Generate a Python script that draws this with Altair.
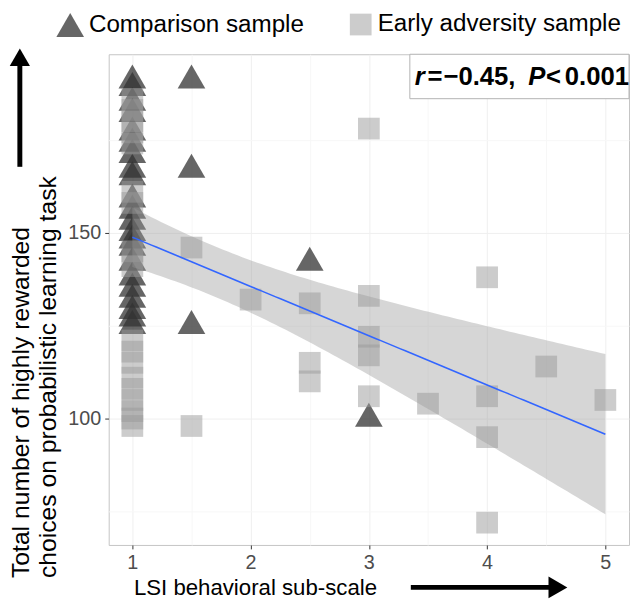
import altair as alt
import numpy as np
import pandas as pd

groups = ["Comparison sample", "Early adversity sample"]

# Comparison sample (triangles)
comp_x = [1, 1, 1, 1, 1, 1, 1, 1, 1, 1, 1, 1, 1, 1, 1, 1, 1, 1, 1, 1, 1, 1,
          1.5, 1.5, 1.5, 2.5, 3]
comp_y = [192, 190, 186, 183, 178, 175, 172, 168, 166, 160, 157, 154, 151, 149,
          147, 143, 139, 136, 133, 130, 128, 126,
          192, 168, 126, 143, 101]

# Early adversity sample (squares)
early_x = [1, 1, 1, 1, 1, 1, 1, 1, 1, 1, 1, 1, 1, 1, 1, 1, 1, 1,
           1.5, 1.5, 2, 2.5, 2.5, 2.5, 3, 3, 3, 3, 3, 3.5, 4, 4, 4, 4, 4.5, 5]
early_y = [186, 183, 180, 177, 174, 161, 158, 145, 141, 121, 118, 115, 111, 108,
           105, 102, 100, 98,
           146, 98, 132, 131, 115, 110, 178, 133, 122, 117, 106, 104,
           138, 106, 95, 72, 114, 105]

x_ticks = [1, 1.5, 2, 2.5, 3, 3.5, 4, 4.5, 5]
y_ticks = [75, 100, 125, 150, 175]

FONT = "Liberation Sans"

pts = pd.DataFrame({
    "x": comp_x + early_x,
    "y": comp_y + early_y,
    "sample": [groups[0]] * len(comp_x) + [groups[1]] * len(early_x),
})

# linear fit with 95% confidence band
xa = np.array(pts["x"], dtype=float)
ya = np.array(pts["y"], dtype=float)
n = len(xa)
slope, intercept = np.polyfit(xa, ya, 1)
resid = ya - (intercept + slope * xa)
s = np.sqrt((resid ** 2).sum() / (n - 2))
xbar = xa.mean()
sxx = ((xa - xbar) ** 2).sum()
grid = np.linspace(xa.min(), xa.max(), 100)
fit = intercept + slope * grid
se = s * np.sqrt(1.0 / n + (grid - xbar) ** 2 / sxx)
band = pd.DataFrame({"x": grid, "fit": fit, "lo": fit - 2.0 * se, "hi": fit + 2.0 * se})

xr = xa.max() - xa.min()
yr = ya.max() - ya.min()
xdom = [xa.min() - 0.05 * xr, xa.max() + 0.05 * xr]
ydom = [ya.min() - 0.05 * yr, ya.max() + 0.05 * yr]

xscale = alt.Scale(domain=xdom, nice=False, zero=False)
yscale = alt.Scale(domain=ydom, nice=False, zero=False)

x_axis = alt.Axis(
    values=x_ticks,
    labelExpr="datum.value % 1 === 0 ? format(datum.value, 'd') : ''",
    title="LSI behavioral sub-scale",
    titleFont=FONT, titleFontSize=22.5, titleFontWeight="normal", titleColor="black",
    titleX=25, titleY=50, titleAlign="left", titleBaseline="alphabetic", titleAnchor="start",
    labelFont=FONT, labelFontSize=20, labelColor="#4d4d4d", labelPadding=4,
    tickSize=4, tickColor="#333333",
    tickOpacity={"condition": {"test": "datum.value % 1 === 0", "value": 1}, "value": 0},
    gridColor={"condition": {"test": "datum.value % 1 === 0", "value": "#efefef"}, "value": "#f7f7f7"},
    domain=False,
)
y_axis = alt.Axis(
    values=y_ticks,
    labelExpr="datum.value % 50 === 0 ? format(datum.value, 'd') : ''",
    title=["Total number of highly rewarded", "choices on probabilistic learning task"],
    titleFont=FONT, titleFontSize=25, titleFontWeight="normal", titleColor="black",
    titleAngle=270, titleX=-101, titleY=530, titleAlign="left", titleBaseline="top",
    titleLineHeight=27,
    labelFont=FONT, labelFontSize=20, labelColor="#4d4d4d", labelPadding=4,
    tickSize=4, tickColor="#333333",
    tickOpacity={"condition": {"test": "datum.value % 50 === 0", "value": 1}, "value": 0},
    gridColor={"condition": {"test": "datum.value % 50 === 0", "value": "#efefef"}, "value": "#f7f7f7"},
    domain=False,
)

leg = alt.Legend(
    orient="none", legendX=-53, legendY=-44, direction="horizontal", title=None,
    labelFont=FONT, labelFontSize=24.5, labelColor="black", labelOffset=5, labelLimit=0,
    symbolSize=750, symbolStrokeWidth=0, columnPadding=45,
)

points = alt.Chart(pts).mark_point(filled=True, strokeWidth=0).encode(
    x=alt.X("x:Q", scale=xscale, axis=x_axis),
    y=alt.Y("y:Q", scale=yscale, axis=y_axis),
    shape=alt.Shape("sample:N", scale=alt.Scale(domain=groups, range=["triangle-up", "square"]), legend=leg),
    color=alt.Color("sample:N", scale=alt.Scale(domain=groups, range=["#333333", "#999999"]), legend=leg),
    opacity=alt.Opacity("sample:N", scale=alt.Scale(domain=groups, range=[0.75, 0.5]), legend=leg),
    size=alt.Size("sample:N", scale=alt.Scale(domain=groups, range=[784, 484]), legend=None),
)

band_layer = alt.Chart(band).mark_area(color="#999999", opacity=0.4).encode(
    x=alt.X("x:Q", scale=xscale), y=alt.Y("lo:Q", scale=yscale), y2="hi:Q"
)
line_layer = alt.Chart(band).mark_line(color="#3366FF", strokeWidth=1.6).encode(
    x=alt.X("x:Q", scale=xscale), y=alt.Y("fit:Q", scale=yscale)
)

dummy = alt.Data(values=[{"a": 1}])

box = alt.Chart(dummy).mark_rect(fill="white", stroke="#b3b3b3", strokeWidth=1).encode(
    x=alt.value(305), x2=alt.value(527), y=alt.value(0), y2=alt.value(45)
)

pieces = [("r", 310, "italic"), ("=", 323, "normal"), ("\u22120.45,", 339, "normal"),
          ("P", 425, "italic"), ("<", 443, "normal"), ("0.001", 462, "normal")]
texts = [
    alt.Chart(dummy).mark_text(text=t, font=FONT, fontSize=26, fontWeight="bold", fontStyle=st,
                               align="left", baseline="alphabetic", color="black").encode(
        x=alt.value(px), y=alt.value(31))
    for t, px, st in pieces
]

# arrows
y_arrow = alt.Chart(dummy).mark_rule(color="black", strokeWidth=5).encode(
    x=alt.value(-90), y=alt.value(8), y2=alt.value(114))
y_head = alt.Chart(dummy).mark_point(shape="triangle-up", filled=True, color="black", size=420,
                                     opacity=1, strokeWidth=0).encode(
    x=alt.value(-90), y=alt.value(3))
x_arrow = alt.Chart(dummy).mark_rule(color="black", strokeWidth=5).encode(
    y=alt.value(540), x=alt.value(306), x2=alt.value(450))
x_head = alt.Chart(dummy).mark_point(shape="triangle-right", filled=True, color="black", size=484,
                                     opacity=1, strokeWidth=0).encode(
    x=alt.value(455), y=alt.value(540))

chart = alt.layer(points, band_layer, line_layer, box, *texts, y_arrow, y_head, x_arrow, x_head).properties(
    width=527, height=497,
    padding={"left": 102, "top": 43, "right": 1, "bottom": 59},
    autosize=alt.AutoSizeParams(type="none"),
    background="white",
).configure_view(stroke="#c4c4c4", strokeWidth=1)

chart.save("out.html", embed_options={"renderer": "svg", "actions": False})
